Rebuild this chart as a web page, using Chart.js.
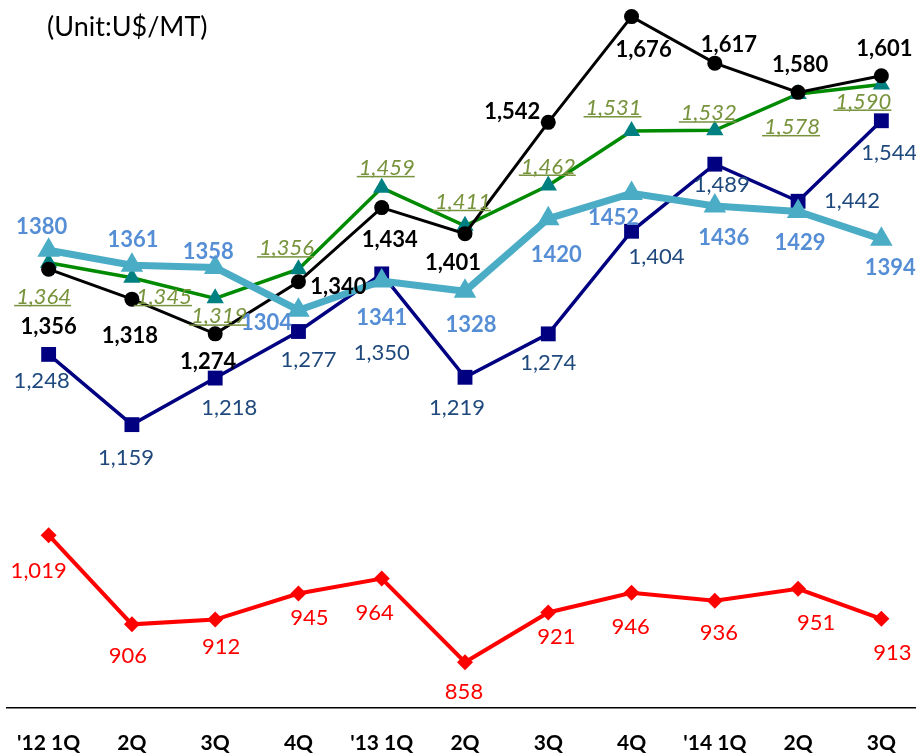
<!DOCTYPE html>
<html>
<head>
<meta charset="utf-8">
<script src="https://cdn.jsdelivr.net/npm/chart.js@4.4.1/dist/chart.umd.min.js"></script>
<style>
  html, body { margin: 0; padding: 0; background: #fff; overflow: hidden; }
  /* a few px wider than the window so the last category sits like the original */
  #wrap { width: 923px; height: 754px; position: relative; }
</style>
</head>
<body>
<div id="wrap"><canvas id="priceChart"></canvas></div>
<script>
// Chart data
const quarters = ["'12 1Q", '2Q', '3Q', '4Q', "'13 1Q", '2Q', '3Q', '4Q', "'14 1Q", '2Q', '3Q'];
const blackSeries = [1356, 1318, 1274, 1340, 1434, 1401, 1542, 1676, 1617, 1580, 1601];
const greenSeries = [1364, 1345, 1319, 1356, 1459, 1411, 1462, 1531, 1532, 1578, 1590];
const navySeries = [1248, 1159, 1218, 1277, 1350, 1219, 1274, 1404, 1489, 1442, 1544];
const cyanSeries = [1380, 1361, 1358, 1304, 1341, 1328, 1420, 1452, 1436, 1429, 1394];
const redSeries = [1019, 906, 912, 945, 964, 858, 921, 946, 936, 951, 913];
const unitText = '(Unit:U$/MT)';

// Label placement relative to each point (dx, dy in px)
const blackOffsets = [[0, 58], [-2, 37], [-7, 28], [40, 5], [8, 32], [-12, 29], [-36, -10], [12, 33], [14, -18], [2, -27], [3, -27]];
const greenOffsets = [[-5, 34], [32, 19], [4, 18], [-12, -21], [5, -20], [-2, -24], [0, -19], [-18, -23], [-6, -17], [-6, 33], [-18, 17]];
const navyOffsets = [[-7, 27], [-6, 33], [14, 30], [10, 28], [0, 79], [-8, 31], [0, 29], [25, 26], [7, 21], [54, 0], [8, 32]];
const cyanOffsets = [[-7, -23], [1, -25], [-7, -16], [-32, 13], [0, 37], [6, 34], [8, 36], [-18, 25], [9, 32], [2, 31], [9, 29]];
const redOffsets = [[-10, 36], [-4, 32], [6, 27], [11, 24], [-7, 34], [-1, 30], [8, 24], [-1, 34], [4, 32], [18, 34], [11, 34]];

const fmt = v => v.toLocaleString('en-US');

// Draws the value labels and unit caption
const labelPlugin = {
    id: 'valueLabels',
    afterDatasetsDraw(chart) {
        const ctx = chart.ctx;
        ctx.save();
        ctx.textAlign = 'center';
        ctx.textBaseline = 'middle';
        chart.data.datasets.forEach((ds, di) => {
            const meta = chart.getDatasetMeta(di);
            const lab = ds.labelStyle;
            ctx.font = lab.font;
            ctx.fillStyle = lab.color;
            meta.data.forEach((pt, i) => {
                const text = lab.plain ? String(ds.data[i]) : fmt(ds.data[i]);
                const x = pt.x + lab.offsets[i][0];
                const y = pt.y + lab.offsets[i][1];
                ctx.fillText(text, x, y);
                if (lab.underline) {
                    const w = ctx.measureText(text).width;
                    ctx.fillRect(x - w / 2 - 2, y + 8, w + 2, 1.5);
                }
            });
        });
        ctx.textAlign = 'left';
        ctx.fillStyle = '#000';
        ctx.font = '27px Lato';
        ctx.fillText(unitText, 47, 27);
        ctx.restore();
    }
};

document.addEventListener('DOMContentLoaded', function () {
    const ctx = document.getElementById('priceChart').getContext('2d');
    new Chart(ctx, {
        type: 'line',
        data: {
            labels: quarters,
            datasets: [{
                data: redSeries,
                borderColor: '#ff0000',
                backgroundColor: '#ff0000',
                borderWidth: 4,
                pointStyle: 'rectRot',
                pointRadius: 8,
                pointBorderWidth: 0,
                labelStyle: { font: '22px Lato', color: '#ff0000', offsets: redOffsets }
            }, {
                data: cyanSeries,
                borderColor: '#4bacc6',
                backgroundColor: '#4bacc6',
                borderWidth: 7,
                pointStyle: 'triangle',
                pointRadius: 13,
                pointBorderWidth: 0,
                labelStyle: { font: 'bold 22px Lato', color: '#558ed5', offsets: cyanOffsets, plain: true }
            }, {
                data: navySeries,
                borderColor: '#000080',
                backgroundColor: '#000080',
                borderWidth: 3.5,
                pointStyle: 'rect',
                pointRadius: 10.5,
                pointBorderWidth: 0,
                labelStyle: { font: '22px Lato', color: '#1f497d', offsets: navyOffsets }
            }, {
                data: blackSeries,
                borderColor: '#000000',
                backgroundColor: '#000000',
                borderWidth: 3,
                pointStyle: 'circle',
                pointRadius: 7.5,
                pointBorderWidth: 0,
                labelStyle: { font: 'bold 22px Lato', color: '#000000', offsets: blackOffsets }
            }, {
                data: greenSeries,
                borderColor: '#008a00',
                backgroundColor: '#008080',
                borderWidth: 3.5,
                pointStyle: 'triangle',
                pointRadius: 10,
                pointBorderWidth: 0,
                labelStyle: { font: 'italic 22px Lato', color: '#77933c', offsets: greenOffsets, underline: true }
            }]
        },
        options: {
            responsive: true,
            maintainAspectRatio: false,
            animation: false,
            layout: {
                autoPadding: false,
                padding: { left: 7, right: 0, top: 0, bottom: 0 }
            },
            plugins: {
                legend: { display: false },
                tooltip: { enabled: false }
            },
            scales: {
                x: {
                    offset: true,
                    grid: { display: false, drawTicks: true, tickLength: 23 },
                    border: { display: true, color: '#000', width: 1.5 },
                    ticks: {
                        padding: 0,
                        maxRotation: 0,
                        autoSkip: false,
                        color: '#000',
                        font: { family: 'Lato', size: 21, weight: 'bold' }
                    },
                    afterFit(scale) { scale.height = 46; }
                },
                y: {
                    display: false,
                    min: 800,
                    max: 1697
                }
            }
        },
        plugins: [labelPlugin]
    });
});
</script>
</body>
</html>
